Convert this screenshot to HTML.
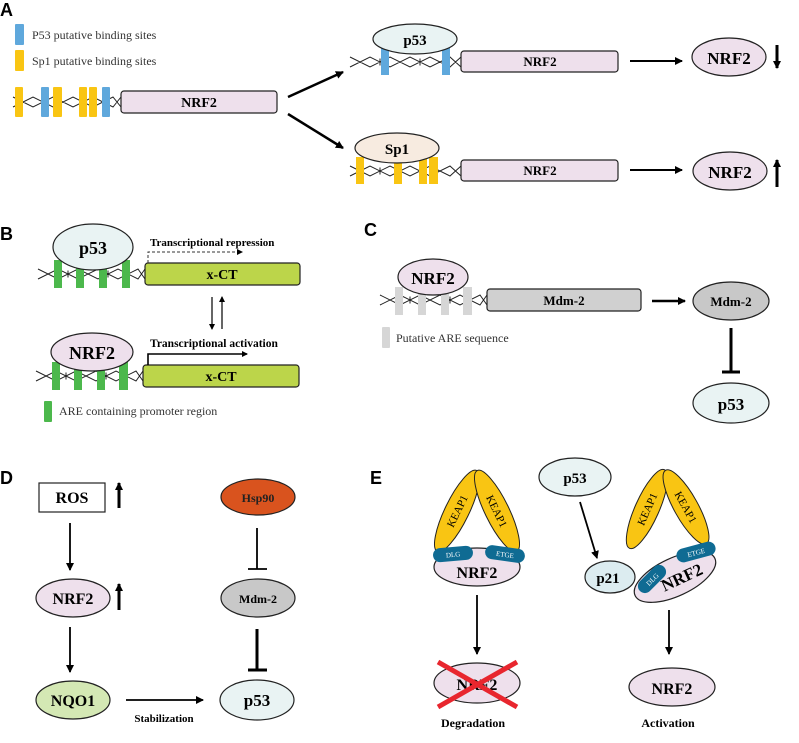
<!DOCTYPE html>
<html><head><meta charset="utf-8"><style>
html,body{margin:0;padding:0;background:#fff;}
svg{display:block;}
text{font-family:"Liberation Serif",serif;}
.b{font-weight:bold;}
.lab{font-family:"Liberation Sans",sans-serif;font-weight:bold;font-size:18px;}
</style></head><body>
<svg id="s" width="799" height="743" viewBox="0 0 799 743" xmlns="http://www.w3.org/2000/svg">
<defs>
<marker id="ah" markerWidth="8" markerHeight="8" refX="7" refY="4" orient="auto" markerUnits="userSpaceOnUse"><path d="M0,0 L8,4 L0,8 Z" fill="#000"/></marker>
<marker id="ahs" markerWidth="6" markerHeight="6" refX="5" refY="3" orient="auto" markerUnits="userSpaceOnUse"><path d="M0,0 L6,3 L0,6 Z" fill="#000"/></marker>
</defs>
<g id="helix" fill="none" stroke="#222" stroke-width="1"></g>

<!-- Panel labels -->
<text class="lab" x="0" y="16">A</text>
<text class="lab" x="0" y="240">B</text>
<text class="lab" x="364" y="236">C</text>
<text class="lab" x="0" y="484">D</text>
<text class="lab" x="370" y="484">E</text>

<!-- A legend -->
<rect x="15" y="24" width="9" height="21" rx="1" fill="#5fa8dc"/>
<text x="32" y="39" font-size="12" fill="#333">P53 putative binding sites</text>
<rect x="15" y="50" width="9" height="21" rx="1" fill="#f9c513"/>
<text x="32" y="65" font-size="12" fill="#333">Sp1 putative binding sites</text>

<!-- A main -->
<g>
<rect x="15" y="87" width="8" height="30" rx="1" fill="#f9c513"/>
<rect x="41" y="87" width="8" height="30" rx="1" fill="#5fa8dc"/>
<rect x="53" y="87" width="9" height="30" rx="1" fill="#f9c513"/>
<rect x="79" y="87" width="8" height="30" rx="1" fill="#f9c513"/>
<rect x="89" y="87" width="8" height="30" rx="1" fill="#f9c513"/>
<rect x="102" y="87" width="8" height="30" rx="1" fill="#5fa8dc"/>
<rect x="121" y="91" width="156" height="22" rx="3" fill="#eee0ec" stroke="#222" stroke-width="1.2"/>
<text class="b" x="199" y="107" font-size="14" text-anchor="middle">NRF2</text>
</g>
<line x1="288" y1="97" x2="343" y2="72" stroke="#000" stroke-width="2.5" marker-end="url(#ah)"/>
<line x1="288" y1="114" x2="343" y2="148" stroke="#000" stroke-width="2.5" marker-end="url(#ah)"/>

<!-- A top right -->
<rect x="381" y="48" width="8" height="27" fill="#5fa8dc"/>
<rect x="442" y="48" width="8" height="27" fill="#5fa8dc"/>
<ellipse cx="415" cy="39" rx="42" ry="15" fill="#e9f3f3" stroke="#222" stroke-width="1.2"/>
<text class="b" x="415" y="45" font-size="15" text-anchor="middle">p53</text>
<rect x="461" y="51" width="157" height="21" rx="3" fill="#eee0ec" stroke="#222" stroke-width="1.2"/>
<text class="b" x="540" y="66" font-size="13" text-anchor="middle">NRF2</text>
<line x1="630" y1="61" x2="682" y2="61" stroke="#000" stroke-width="2" marker-end="url(#ah)"/>
<ellipse cx="729" cy="57" rx="37" ry="19" fill="#eee0ec" stroke="#222" stroke-width="1.2"/>
<text class="b" x="729" y="64" font-size="17" text-anchor="middle">NRF2</text>
<line x1="777" y1="45" x2="777" y2="68" stroke="#000" stroke-width="3" marker-end="url(#ah)"/>

<!-- A bottom right -->
<rect x="356" y="157" width="8" height="27" fill="#f9c513"/>
<rect x="394" y="157" width="8" height="27" fill="#f9c513"/>
<rect x="419" y="157" width="8" height="27" fill="#f9c513"/>
<rect x="429" y="157" width="9" height="27" fill="#f9c513"/>
<ellipse cx="397" cy="148" rx="42" ry="15" fill="#f7ebe0" stroke="#222" stroke-width="1.2"/>
<text class="b" x="397" y="154" font-size="15" text-anchor="middle">Sp1</text>
<rect x="461" y="160" width="157" height="21" rx="3" fill="#eee0ec" stroke="#222" stroke-width="1.2"/>
<text class="b" x="540" y="175" font-size="13" text-anchor="middle">NRF2</text>
<line x1="630" y1="170" x2="682" y2="170" stroke="#000" stroke-width="2" marker-end="url(#ah)"/>
<ellipse cx="730" cy="171" rx="37" ry="19" fill="#eee0ec" stroke="#222" stroke-width="1.2"/>
<text class="b" x="730" y="178" font-size="17" text-anchor="middle">NRF2</text>
<line x1="777" y1="187" x2="777" y2="160" stroke="#000" stroke-width="3" marker-end="url(#ah)"/>

<!-- B -->
<g fill="#4cb84c">
<rect x="54" y="260" width="8" height="28"/><rect x="76" y="260" width="8" height="28"/>
<rect x="99" y="260" width="8" height="28"/><rect x="122" y="260" width="8" height="28"/>
</g>
<ellipse cx="93" cy="247" rx="40" ry="23" fill="#e9f3f3" stroke="#222" stroke-width="1.2"/>
<text class="b" x="93" y="254" font-size="18" text-anchor="middle">p53</text>
<rect x="145" y="263" width="155" height="22" rx="3" fill="#bcd54a" stroke="#222" stroke-width="1.2"/>
<text class="b" x="222" y="279" font-size="14" text-anchor="middle">x-CT</text>
<text class="b" x="150" y="246" font-size="11">Transcriptional repression</text>
<path d="M148,263 V252 H242" fill="none" stroke="#333" stroke-width="1" stroke-dasharray="3,2" marker-end="url(#ahs)"/>
<line x1="212" y1="297" x2="212" y2="329" stroke="#000" stroke-width="1.2" marker-end="url(#ahs)"/>
<line x1="222" y1="329" x2="222" y2="297" stroke="#000" stroke-width="1.2" marker-end="url(#ahs)"/>
<g fill="#4cb84c">
<rect x="52" y="362" width="8" height="28"/><rect x="74" y="362" width="8" height="28"/>
<rect x="97" y="362" width="8" height="28"/><rect x="119" y="362" width="9" height="28"/>
</g>
<ellipse cx="92" cy="352" rx="41" ry="19" fill="#eee0ec" stroke="#222" stroke-width="1.2"/>
<text class="b" x="92" y="359" font-size="18" text-anchor="middle">NRF2</text>
<rect x="143" y="365" width="156" height="22" rx="3" fill="#bcd54a" stroke="#222" stroke-width="1.2"/>
<text class="b" x="221" y="381" font-size="14" text-anchor="middle">x-CT</text>
<text class="b" x="150" y="347" font-size="11.5">Transcriptional  activation</text>
<path d="M148,365 V354 H247" fill="none" stroke="#000" stroke-width="1.6" marker-end="url(#ahs)"/>
<rect x="44" y="401" width="8" height="21" rx="1" fill="#4cb84c"/>
<text x="59" y="415" font-size="12" fill="#333">ARE containing promoter region</text>

<!-- C -->
<g fill="#d6d6d6">
<rect x="395" y="287" width="8" height="28"/><rect x="418" y="287" width="8" height="28"/>
<rect x="441" y="287" width="8" height="28"/><rect x="463" y="287" width="9" height="28"/>
</g>
<ellipse cx="433" cy="277" rx="35" ry="18" fill="#eee0ec" stroke="#222" stroke-width="1.2"/>
<text class="b" x="433" y="284" font-size="17" text-anchor="middle">NRF2</text>
<rect x="487" y="289" width="154" height="22" rx="3" fill="#d0d0d0" stroke="#222" stroke-width="1.2"/>
<text class="b" x="564" y="305" font-size="13" text-anchor="middle">Mdm-2</text>
<line x1="652" y1="301" x2="685" y2="301" stroke="#000" stroke-width="2.5" marker-end="url(#ah)"/>
<ellipse cx="731" cy="301" rx="38" ry="19" fill="#c8c8c8" stroke="#222" stroke-width="1.2"/>
<text class="b" x="731" y="306" font-size="13" text-anchor="middle">Mdm-2</text>
<line x1="731" y1="328" x2="731" y2="372" stroke="#000" stroke-width="3"/>
<line x1="722" y1="372" x2="740" y2="372" stroke="#000" stroke-width="3"/>
<ellipse cx="731" cy="403" rx="38" ry="20" fill="#e9f3f3" stroke="#222" stroke-width="1.2"/>
<text class="b" x="731" y="410" font-size="17" text-anchor="middle">p53</text>
<rect x="382" y="327" width="8" height="21" rx="1" fill="#d6d6d6"/>
<text x="396" y="342" font-size="12" fill="#333">Putative ARE sequence</text>

<!-- D -->
<rect x="39" y="483" width="66" height="29" fill="#fff" stroke="#222" stroke-width="1.2"/>
<text class="b" x="72" y="503" font-size="16" text-anchor="middle">ROS</text>
<line x1="119" y1="508" x2="119" y2="483" stroke="#000" stroke-width="3" marker-end="url(#ah)"/>
<line x1="70" y1="523" x2="70" y2="570" stroke="#000" stroke-width="1.8" marker-end="url(#ah)"/>
<ellipse cx="73" cy="598" rx="37" ry="19" fill="#eee0ec" stroke="#222" stroke-width="1.2"/>
<text class="b" x="73" y="604" font-size="16" text-anchor="middle">NRF2</text>
<line x1="119" y1="610" x2="119" y2="584" stroke="#000" stroke-width="3" marker-end="url(#ah)"/>
<line x1="70" y1="627" x2="70" y2="672" stroke="#000" stroke-width="1.8" marker-end="url(#ah)"/>
<ellipse cx="73" cy="700" rx="37" ry="19" fill="#d4e8b4" stroke="#222" stroke-width="1.2"/>
<text class="b" x="73" y="706" font-size="16" text-anchor="middle">NQO1</text>
<line x1="126" y1="700" x2="203" y2="700" stroke="#000" stroke-width="1.8" marker-end="url(#ah)"/>
<text class="b" x="164" y="722" font-size="11" text-anchor="middle">Stabilization</text>
<ellipse cx="258" cy="497" rx="37" ry="18" fill="#d9531e" stroke="#222" stroke-width="1.2"/>
<text class="b" x="258" y="502" font-size="12" text-anchor="middle" fill="#222">Hsp90</text>
<line x1="257" y1="528" x2="257" y2="569" stroke="#000" stroke-width="1.8"/>
<line x1="248" y1="569" x2="267" y2="569" stroke="#000" stroke-width="1.8"/>
<ellipse cx="258" cy="598" rx="37" ry="19" fill="#c8c8c8" stroke="#222" stroke-width="1.2"/>
<text class="b" x="258" y="603" font-size="12" text-anchor="middle">Mdm-2</text>
<line x1="257" y1="629" x2="257" y2="670" stroke="#000" stroke-width="3"/>
<line x1="248" y1="670" x2="267" y2="670" stroke="#000" stroke-width="3"/>
<ellipse cx="257" cy="700" rx="37" ry="20" fill="#e9f3f3" stroke="#222" stroke-width="1.2"/>
<text class="b" x="257" y="706" font-size="17" text-anchor="middle">p53</text>

<!-- E left -->
<g transform="translate(457,511) rotate(-64)"><ellipse rx="45" ry="12" fill="#f9c513" stroke="#222" stroke-width="1"/><text x="0" y="4" font-size="11" text-anchor="middle">KEAP1</text></g>
<g transform="translate(497,511) rotate(64)"><ellipse rx="45" ry="12" fill="#f9c513" stroke="#222" stroke-width="1"/><text x="0" y="4" font-size="11" text-anchor="middle">KEAP1</text></g>
<ellipse cx="477" cy="567" rx="43" ry="19" fill="#eee0ec" stroke="#222" stroke-width="1.2"/>
<text class="b" x="477" y="578" font-size="16" text-anchor="middle">NRF2</text>
<g transform="translate(453,554) rotate(-5)"><rect x="-20" y="-7" width="40" height="14" rx="7" fill="#0f6b93"/><text x="0" y="3" font-size="7" fill="#fff" text-anchor="middle">DLG</text></g>
<g transform="translate(505,554) rotate(8)"><rect x="-20" y="-7" width="40" height="14" rx="7" fill="#0f6b93"/><text x="0" y="3" font-size="7" fill="#fff" text-anchor="middle">ETGE</text></g>
<line x1="477" y1="595" x2="477" y2="654" stroke="#000" stroke-width="1.8" marker-end="url(#ah)"/>
<ellipse cx="477" cy="683" rx="43" ry="20" fill="#eee0ec" stroke="#222" stroke-width="1.2"/>
<text class="b" x="477" y="690" font-size="16" text-anchor="middle">NRF2</text>
<line x1="438" y1="662" x2="517" y2="707" stroke="#e8262e" stroke-width="5"/>
<line x1="438" y1="707" x2="517" y2="662" stroke="#e8262e" stroke-width="5"/>
<text class="b" x="473" y="727" font-size="12" text-anchor="middle">Degradation</text>

<!-- E right -->
<ellipse cx="575" cy="477" rx="36" ry="19" fill="#e9f3f3" stroke="#222" stroke-width="1.2"/>
<text class="b" x="575" y="483" font-size="15" text-anchor="middle">p53</text>
<line x1="580" y1="502" x2="597" y2="558" stroke="#000" stroke-width="1.8" marker-end="url(#ah)"/>
<g transform="translate(647,509) rotate(-66)"><ellipse rx="43" ry="12" fill="#f9c513" stroke="#222" stroke-width="1"/><text x="0" y="4" font-size="11" text-anchor="middle">KEAP1</text></g>
<g transform="translate(686,507) rotate(61)"><ellipse rx="42" ry="12" fill="#f9c513" stroke="#222" stroke-width="1"/><text x="0" y="4" font-size="11" text-anchor="middle">KEAP1</text></g>
<ellipse cx="610" cy="577" rx="25" ry="16" fill="#dcecf0" stroke="#222" stroke-width="1.2"/>
<text class="b" x="608" y="583" font-size="15" text-anchor="middle">p21</text>
<g transform="translate(675,577) rotate(-25)"><ellipse rx="44" ry="19" fill="#eee0ec" stroke="#222" stroke-width="1.2"/><text class="b" x="6" y="9" font-size="17" text-anchor="middle">NRF2</text></g>
<g transform="translate(652,579) rotate(-45)"><rect x="-17" y="-7" width="34" height="14" rx="7" fill="#0f6b93"/><text x="0" y="3" font-size="7" fill="#fff" text-anchor="middle">DLG</text></g>
<g transform="translate(696,552) rotate(-15)"><rect x="-20" y="-7" width="40" height="14" rx="7" fill="#0f6b93"/><text x="0" y="3" font-size="7" fill="#fff" text-anchor="middle">ETGE</text></g>
<line x1="669" y1="610" x2="669" y2="654" stroke="#000" stroke-width="1.8" marker-end="url(#ah)"/>
<ellipse cx="672" cy="687" rx="43" ry="19" fill="#eee0ec" stroke="#222" stroke-width="1.2"/>
<text class="b" x="672" y="694" font-size="16" text-anchor="middle">NRF2</text>
<text class="b" x="668" y="727" font-size="12" text-anchor="middle">Activation</text>
</svg>
<script>
(function(){
var g=document.getElementById('helix');var d='';
function hx(x1,x2,y,h,p){
 var s1='M'+x1+','+(y-h),s2='M'+x1+','+(y+h),x=x1,t=0,i=0;
 while(x<x2){var nx=Math.min(x+p/2,x2);t=1-t;
  s1+=' L'+nx+','+(t?y+h:y-h);
  s2+=' L'+nx+','+(t?y-h:y+h);
  if(!t && nx<x2){d+='M'+(x+p/4)+','+(y-h+1.5)+'V'+(y+h-1.5);}
  x=nx;i++;}
 d+=s1+s2;}
hx(13,121,102,5,40);
hx(350,461,62,5,40);
hx(350,461,171,5,40);
hx(38,145,274,5,40);
hx(36,143,376,5,40);
hx(380,487,300,5,40);
var p=document.createElementNS('http://www.w3.org/2000/svg','path');p.setAttribute('d',d);g.appendChild(p);
})();
</script>
</body></html>
